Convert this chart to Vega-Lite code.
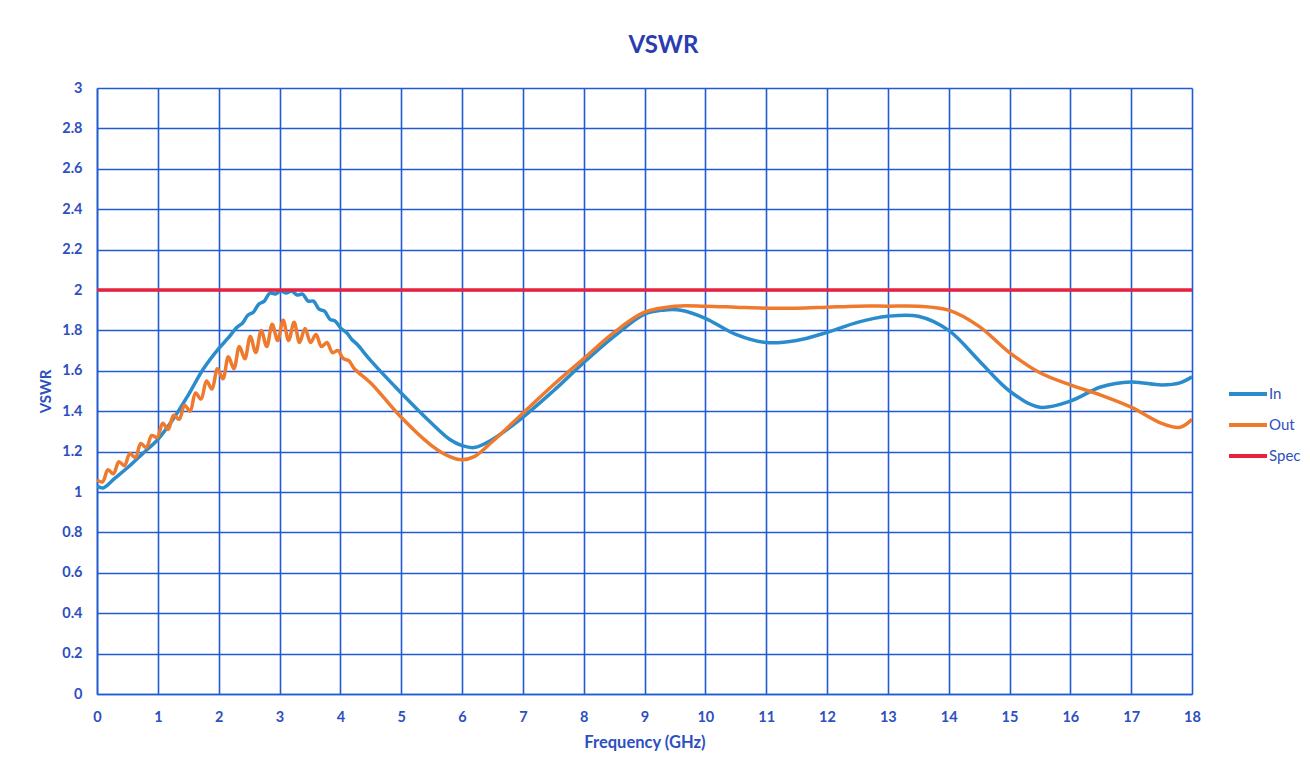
{
  "$schema": "https://vega.github.io/schema/vega-lite/v6.json",
  "width": 1095,
  "height": 606,
  "autosize": {"type": "none"},
  "padding": {"left": 97, "top": 88, "right": 118, "bottom": 80},
  "background": "white",
  "title": {"text": "VSWR", "fontSize": 24, "fontWeight": "bold", "font": "Lato", "color": "#2A3DB0", "offset": 22, "dx": 19},
  "config": {
    "view": {"stroke": null},
    "axis": {"labelFont": "Lato", "titleFont": "Lato", "labelColor": "#2E4FC0", "titleColor": "#2E4FC0", "labelFontWeight": "bold", "titleFontWeight": "bold", "labelFontSize": 14.5, "titleFontSize": 15, "gridColor": "#1F5CD2", "gridWidth": 1.6, "gridOpacity": 1, "domainColor": "#1F5CD2", "domainWidth": 1.6, "ticks": false, "labelOverlap": false}
  },
  "data": {"values": [
    {"f": 0.00, "v": 1.03, "s": "In"},
    {"f": 0.10, "v": 1.02, "s": "In"},
    {"f": 0.30, "v": 1.07, "s": "In"},
    {"f": 0.50, "v": 1.12, "s": "In"},
    {"f": 0.75, "v": 1.19, "s": "In"},
    {"f": 1.00, "v": 1.26, "s": "In"},
    {"f": 1.25, "v": 1.36, "s": "In"},
    {"f": 1.50, "v": 1.48, "s": "In"},
    {"f": 1.75, "v": 1.61, "s": "In"},
    {"f": 2.00, "v": 1.71, "s": "In"},
    {"f": 2.15, "v": 1.76, "s": "In"},
    {"f": 2.30, "v": 1.815, "s": "In"},
    {"f": 2.39, "v": 1.835, "s": "In"},
    {"f": 2.48, "v": 1.875, "s": "In"},
    {"f": 2.57, "v": 1.89, "s": "In"},
    {"f": 2.66, "v": 1.93, "s": "In"},
    {"f": 2.75, "v": 1.945, "s": "In"},
    {"f": 2.84, "v": 1.985, "s": "In"},
    {"f": 2.93, "v": 1.98, "s": "In"},
    {"f": 3.02, "v": 1.995, "s": "In"},
    {"f": 3.11, "v": 1.985, "s": "In"},
    {"f": 3.20, "v": 1.995, "s": "In"},
    {"f": 3.29, "v": 1.975, "s": "In"},
    {"f": 3.38, "v": 1.98, "s": "In"},
    {"f": 3.47, "v": 1.945, "s": "In"},
    {"f": 3.56, "v": 1.945, "s": "In"},
    {"f": 3.65, "v": 1.905, "s": "In"},
    {"f": 3.74, "v": 1.895, "s": "In"},
    {"f": 3.83, "v": 1.855, "s": "In"},
    {"f": 3.92, "v": 1.845, "s": "In"},
    {"f": 4.01, "v": 1.81, "s": "In"},
    {"f": 4.10, "v": 1.79, "s": "In"},
    {"f": 4.19, "v": 1.755, "s": "In"},
    {"f": 4.28, "v": 1.73, "s": "In"},
    {"f": 4.50, "v": 1.65, "s": "In"},
    {"f": 5.00, "v": 1.49, "s": "In"},
    {"f": 5.50, "v": 1.34, "s": "In"},
    {"f": 5.80, "v": 1.26, "s": "In"},
    {"f": 6.00, "v": 1.23, "s": "In"},
    {"f": 6.20, "v": 1.22, "s": "In"},
    {"f": 6.50, "v": 1.26, "s": "In"},
    {"f": 7.00, "v": 1.37, "s": "In"},
    {"f": 7.50, "v": 1.50, "s": "In"},
    {"f": 8.00, "v": 1.64, "s": "In"},
    {"f": 8.50, "v": 1.77, "s": "In"},
    {"f": 9.00, "v": 1.88, "s": "In"},
    {"f": 9.30, "v": 1.90, "s": "In"},
    {"f": 9.60, "v": 1.90, "s": "In"},
    {"f": 10.00, "v": 1.86, "s": "In"},
    {"f": 10.50, "v": 1.78, "s": "In"},
    {"f": 11.00, "v": 1.74, "s": "In"},
    {"f": 11.50, "v": 1.75, "s": "In"},
    {"f": 12.00, "v": 1.79, "s": "In"},
    {"f": 12.50, "v": 1.84, "s": "In"},
    {"f": 13.00, "v": 1.87, "s": "In"},
    {"f": 13.50, "v": 1.87, "s": "In"},
    {"f": 14.00, "v": 1.80, "s": "In"},
    {"f": 14.50, "v": 1.65, "s": "In"},
    {"f": 15.00, "v": 1.50, "s": "In"},
    {"f": 15.50, "v": 1.42, "s": "In"},
    {"f": 16.00, "v": 1.45, "s": "In"},
    {"f": 16.50, "v": 1.52, "s": "In"},
    {"f": 17.00, "v": 1.545, "s": "In"},
    {"f": 17.50, "v": 1.53, "s": "In"},
    {"f": 17.80, "v": 1.54, "s": "In"},
    {"f": 18.00, "v": 1.57, "s": "In"},
    {"f": 0.00, "v": 1.06, "s": "Out"},
    {"f": 0.09, "v": 1.05, "s": "Out"},
    {"f": 0.18, "v": 1.11, "s": "Out"},
    {"f": 0.27, "v": 1.09, "s": "Out"},
    {"f": 0.36, "v": 1.15, "s": "Out"},
    {"f": 0.45, "v": 1.13, "s": "Out"},
    {"f": 0.54, "v": 1.19, "s": "Out"},
    {"f": 0.63, "v": 1.17, "s": "Out"},
    {"f": 0.72, "v": 1.24, "s": "Out"},
    {"f": 0.81, "v": 1.22, "s": "Out"},
    {"f": 0.90, "v": 1.28, "s": "Out"},
    {"f": 0.99, "v": 1.27, "s": "Out"},
    {"f": 1.08, "v": 1.34, "s": "Out"},
    {"f": 1.17, "v": 1.31, "s": "Out"},
    {"f": 1.26, "v": 1.38, "s": "Out"},
    {"f": 1.35, "v": 1.36, "s": "Out"},
    {"f": 1.44, "v": 1.43, "s": "Out"},
    {"f": 1.53, "v": 1.40, "s": "Out"},
    {"f": 1.62, "v": 1.49, "s": "Out"},
    {"f": 1.71, "v": 1.46, "s": "Out"},
    {"f": 1.80, "v": 1.55, "s": "Out"},
    {"f": 1.89, "v": 1.51, "s": "Out"},
    {"f": 1.98, "v": 1.61, "s": "Out"},
    {"f": 2.07, "v": 1.56, "s": "Out"},
    {"f": 2.16, "v": 1.67, "s": "Out"},
    {"f": 2.25, "v": 1.61, "s": "Out"},
    {"f": 2.34, "v": 1.72, "s": "Out"},
    {"f": 2.43, "v": 1.66, "s": "Out"},
    {"f": 2.52, "v": 1.77, "s": "Out"},
    {"f": 2.61, "v": 1.69, "s": "Out"},
    {"f": 2.70, "v": 1.80, "s": "Out"},
    {"f": 2.79, "v": 1.72, "s": "Out"},
    {"f": 2.88, "v": 1.83, "s": "Out"},
    {"f": 2.97, "v": 1.75, "s": "Out"},
    {"f": 3.06, "v": 1.85, "s": "Out"},
    {"f": 3.15, "v": 1.75, "s": "Out"},
    {"f": 3.24, "v": 1.84, "s": "Out"},
    {"f": 3.33, "v": 1.74, "s": "Out"},
    {"f": 3.42, "v": 1.81, "s": "Out"},
    {"f": 3.51, "v": 1.74, "s": "Out"},
    {"f": 3.60, "v": 1.78, "s": "Out"},
    {"f": 3.69, "v": 1.72, "s": "Out"},
    {"f": 3.78, "v": 1.74, "s": "Out"},
    {"f": 3.87, "v": 1.69, "s": "Out"},
    {"f": 3.96, "v": 1.70, "s": "Out"},
    {"f": 4.05, "v": 1.66, "s": "Out"},
    {"f": 4.14, "v": 1.65, "s": "Out"},
    {"f": 4.23, "v": 1.61, "s": "Out"},
    {"f": 4.50, "v": 1.54, "s": "Out"},
    {"f": 5.00, "v": 1.37, "s": "Out"},
    {"f": 5.50, "v": 1.23, "s": "Out"},
    {"f": 5.80, "v": 1.175, "s": "Out"},
    {"f": 6.00, "v": 1.16, "s": "Out"},
    {"f": 6.20, "v": 1.175, "s": "Out"},
    {"f": 6.50, "v": 1.25, "s": "Out"},
    {"f": 7.00, "v": 1.39, "s": "Out"},
    {"f": 7.50, "v": 1.53, "s": "Out"},
    {"f": 8.00, "v": 1.66, "s": "Out"},
    {"f": 8.50, "v": 1.79, "s": "Out"},
    {"f": 9.00, "v": 1.89, "s": "Out"},
    {"f": 9.50, "v": 1.92, "s": "Out"},
    {"f": 10.00, "v": 1.92, "s": "Out"},
    {"f": 10.50, "v": 1.915, "s": "Out"},
    {"f": 11.00, "v": 1.91, "s": "Out"},
    {"f": 11.50, "v": 1.91, "s": "Out"},
    {"f": 12.00, "v": 1.915, "s": "Out"},
    {"f": 12.50, "v": 1.92, "s": "Out"},
    {"f": 13.00, "v": 1.92, "s": "Out"},
    {"f": 13.50, "v": 1.92, "s": "Out"},
    {"f": 14.00, "v": 1.90, "s": "Out"},
    {"f": 14.50, "v": 1.82, "s": "Out"},
    {"f": 15.00, "v": 1.69, "s": "Out"},
    {"f": 15.50, "v": 1.59, "s": "Out"},
    {"f": 16.00, "v": 1.53, "s": "Out"},
    {"f": 16.50, "v": 1.48, "s": "Out"},
    {"f": 17.00, "v": 1.42, "s": "Out"},
    {"f": 17.50, "v": 1.34, "s": "Out"},
    {"f": 17.80, "v": 1.32, "s": "Out"},
    {"f": 18.00, "v": 1.36, "s": "Out"},
    {"f": 0, "v": 2, "s": "Spec"},
    {"f": 18, "v": 2, "s": "Spec"}
  ]},
  "mark": {"type": "line", "strokeWidth": 3.5, "interpolate": "catmull-rom", "clip": true},
  "encoding": {
    "x": {"field": "f", "type": "quantitative", "title": "Frequency (GHz)", "scale": {"domain": [0, 18], "nice": false}, "axis": {"values": [0,1,2,3,4,5,6,7,8,9,10,11,12,13,14,15,16,17,18], "labelPadding": 16, "titlePadding": 11, "titleFontSize": 16.5, "labelFlush": false}},
    "y": {"field": "v", "type": "quantitative", "title": "VSWR", "scale": {"domain": [0, 3], "nice": false}, "axis": {"values": [0,0.2,0.4,0.6,0.8,1,1.2,1.4,1.6,1.8,2,2.2,2.4,2.6,2.8,3], "format": "~g", "labelPadding": 15, "titlePadding": 8, "labelFlush": false}},
    "color": {"field": "s", "type": "nominal", "scale": {"domain": ["In", "Out", "Spec"], "range": ["#2B8CCD", "#EF7A2E", "#E8223E"]},
      "legend": {"title": null, "orient": "none", "legendX": 1130, "legendY": 285, "symbolType": "stroke", "symbolSize": 1444, "symbolStrokeWidth": 4, "rowPadding": 2, "labelFont": "Lato", "labelFontSize": 15, "labelColor": "#2E4FC0", "labelOffset": 0}}
  }
}
